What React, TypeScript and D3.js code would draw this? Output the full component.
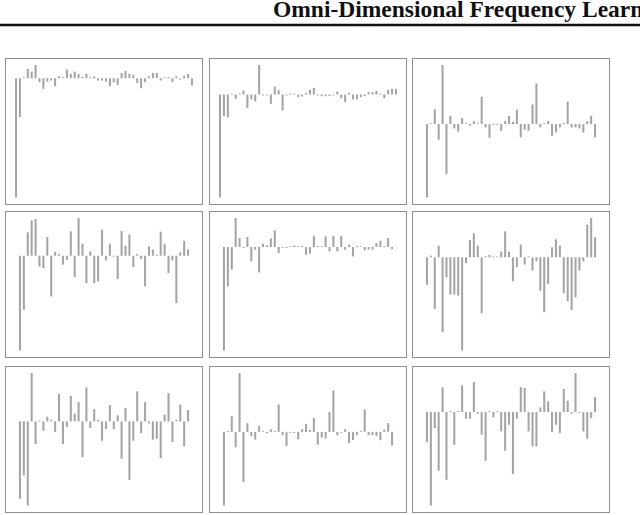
import React from 'react';
import * as d3 from 'd3';

const title = 'Omni-Dimensional Frequency Learner';

// channel responses, one array per panel (row by row)
const panelA = [-3.6, -1.17, 0.02, 0.28, 0.2, 0.4, -0.12, -0.32, -0.1, -0.07, -0.24, 0.06, 0.02, 0.26, 0.13, 0.2,
  0.13, 0.04, 0.14, 0.01, 0.06, -0.07, -0.07, -0.1, -0.24, -0.12, -0.2, 0.16, 0.22, 0.13, 0.1, -0.14,
  -0.3, -0.12, 0.06, 0.16, 0.16, -0.07, 0, 0.03, -0.12, 0.06, -0.04, 0.08, 0.13, -0.22];
const panelB = [-3.11, -0.65, -0.69, 0.02, -0.13, 0.03, 0.12, -0.41, -0.15, -0.21, 0.89, -0.03, -0.02, -0.28, 0.24, 0.13,
  -0.48, -0.02, 0.01, 0, -0.08, -0.06, 0.04, 0.14, 0.2, -0.02, -0.05, -0.05, -0.05, -0.03, 0.09, -0.11,
  -0.23, 0.05, -0.15, -0.15, -0.08, -0.05, 0.07, 0.07, 0.11, 0.02, -0.11, 0.14, 0.17, 0.17];
const panelC = [-2.2, 0.01, 0.45, -0.47, 1.77, -1.5, 0.25, -0.13, -0.23, 0.18, 0.02, -0.05, 0.09, 0, 0.82, -0.1,
  -0.41, -0.02, -0.02, -0.21, 0.09, 0.25, 0.07, 0.43, -0.4, -0.17, -0.2, 0.59, 1.22, -0.1, 0.01, 0.09,
  -0.35, -0.25, -0.1, 0.03, 0.67, -0.1, -0.1, -0.13, -0.25, 0.09, 0.25, -0.4];
const panelD = [-2.84, -1.62, 0.7, 1.06, 1.1, -0.32, -0.37, 0.56, -1.22, 0.11, 0.05, -0.27, -0.12, 0.73, -0.64, 1.13,
  0.36, -0.82, 0.13, -0.82, -0.77, 0.78, -0.14, 0.36, -0.01, -0.7, 0.74, 0.3, 0.64, -0.34, 0.05, -0.1,
  -0.92, 0.28, 0.18, 0.03, 0.72, 0.36, -0.52, -0.14, -1.42, 0.1, 0.45, 0.18];
const panelE = [-3.1, -1.18, -0.68, 0.87, 0.27, -0.03, 0.3, -0.43, -0.08, -0.76, 0.1, 0.05, 0.26, 0.5, -0.18, -0.02,
  -0.02, 0, 0.05, 0, 0.04, -0.23, -0.2, 0.34, 0.02, 0, 0.32, -0.13, 0.34, -0.13, 0.34, -0.08,
  0.07, -0.28, 0.02, 0.02, -0.1, -0.08, -0.08, 0.12, 0.19, 0, 0.27, -0.06];
const panelF = [-0.82, 0.05, -1.55, 0.35, -2.25, -0.6, -1.12, -1.12, -1.15, -2.8, -0.18, 0.52, 0.72, 0.35, -1.68, 0.03,
  0.07, 0.02, 0, 0.17, 0.78, 0.17, -0.72, -0.3, 0.38, -0.22, 0, -0.4, -0.12, -1.0, -1.65, -0.8,
  0.3, 0.54, 0.35, -1.08, -1.32, -1.58, -1.2, -0.4, -0.12, 0.98, 1.18, 0.6];
const panelG = [-2.32, -1.62, -2.52, 1.45, -0.68, 0.01, -0.28, 0.14, 0.05, -0.32, 0.82, -0.68, -0.17, 0.76, 0.23, 0.58,
  -1.07, 1.02, -0.2, 0.37, 0.05, -0.58, -0.23, 0.49, -0.23, 0.18, -1.12, 0.4, -1.75, -0.58, 0.9, -0.35,
  0.58, -0.06, -0.55, -0.52, -1.1, 0.2, 0.85, -0.62, 0.05, 0.5, -0.75, 0.34];
const panelH = [-2.2, 0.01, 0.47, -0.46, 1.76, -1.5, 0.26, -0.13, -0.23, 0.18, 0.02, -0.04, 0.08, 0, 0.82, -0.1,
  -0.42, -0.02, -0.02, -0.22, 0.08, 0.24, 0.06, 0.42, -0.38, -0.17, -0.2, 0.59, 1.24, -0.1, -0.02, 0.08,
  -0.34, -0.24, -0.1, 0.03, 0.67, -0.1, -0.1, -0.13, -0.25, 0.07, 0.26, -0.41];
const panelI = [-0.9, -2.8, -0.48, -1.76, 0.74, -2.03, 0.01, -0.98, 0.03, 0.8, -0.2, -0.2, 0.9, -0.05, -0.68, -1.46,
  0.02, -0.16, 0, -0.58, -1.16, -0.38, -1.86, -0.2, 0.75, 0.72, -0.58, -1.03, -1.03, 0.14, 0.62, 0.32,
  -0.6, -0.38, -0.63, 0.69, 0.34, -0.05, 1.17, -0.02, -0.58, -0.8, -0.18, 0.45];

const panels = [panelA, panelB, panelC, panelD, panelE, panelF, panelG, panelH, panelI];

const W = 640;
const H = 515;
const colX = [5.5, 209.5, 412.5];
const rowY = [58.5, 211.5, 366.5];
const panelW = 197;
const panelH_ = 146;
const step = 3.91;

function Panel({ values, x, y }: { values: number[]; x: number; y: number }) {
  const n = values.length;
  const cx = x + panelW / 2;
  const xScale = d3.scaleBand<number>()
    .domain(d3.range(n))
    .range([cx - (n * step) / 2, cx + (n * step) / 2])
    .paddingInner(0.48)
    .paddingOuter(0.24);
  const [lo, hi] = d3.extent(values) as [number, number];
  const yScale = d3.scaleLinear()
    .domain([lo, hi])
    .range([y + panelH_ - 7, y + 6.5]);
  const zero = yScale(0);
  return (
    <g>
      <rect x={x} y={y} width={panelW} height={panelH_} fill="#fff" stroke="#8f8f8f" strokeWidth={1} />
      {values.map((v, i) => {
        const yy = yScale(v);
        const top = Math.min(yy, zero);
        const h = Math.max(Math.abs(yy - zero), 0.9);
        return (
          <rect key={i} x={xScale(i)} y={v >= 0 ? top - (h - Math.abs(yy - zero)) : top}
            width={xScale.bandwidth()} height={h} fill="#a4a4a4" />
        );
      })}
    </g>
  );
}

export default function App() {
  return (
    <svg width={W} height={H} style={{ position: 'absolute', left: 0, top: 0, background: '#fff' }}>
      <text x={273} y={16.7} fontFamily='"Liberation Serif", "Times New Roman", serif' fontWeight="bold"
        fontSize={23.5} fill="#111">{title}</text>
      <line x1={0} x2={W} y1={25} y2={25} stroke="#111" strokeWidth={2.4} />
      {panels.map((vals, k) => (
        <Panel key={k} values={vals} x={colX[k % 3]} y={rowY[Math.floor(k / 3)]} />
      ))}
    </svg>
  );
}
